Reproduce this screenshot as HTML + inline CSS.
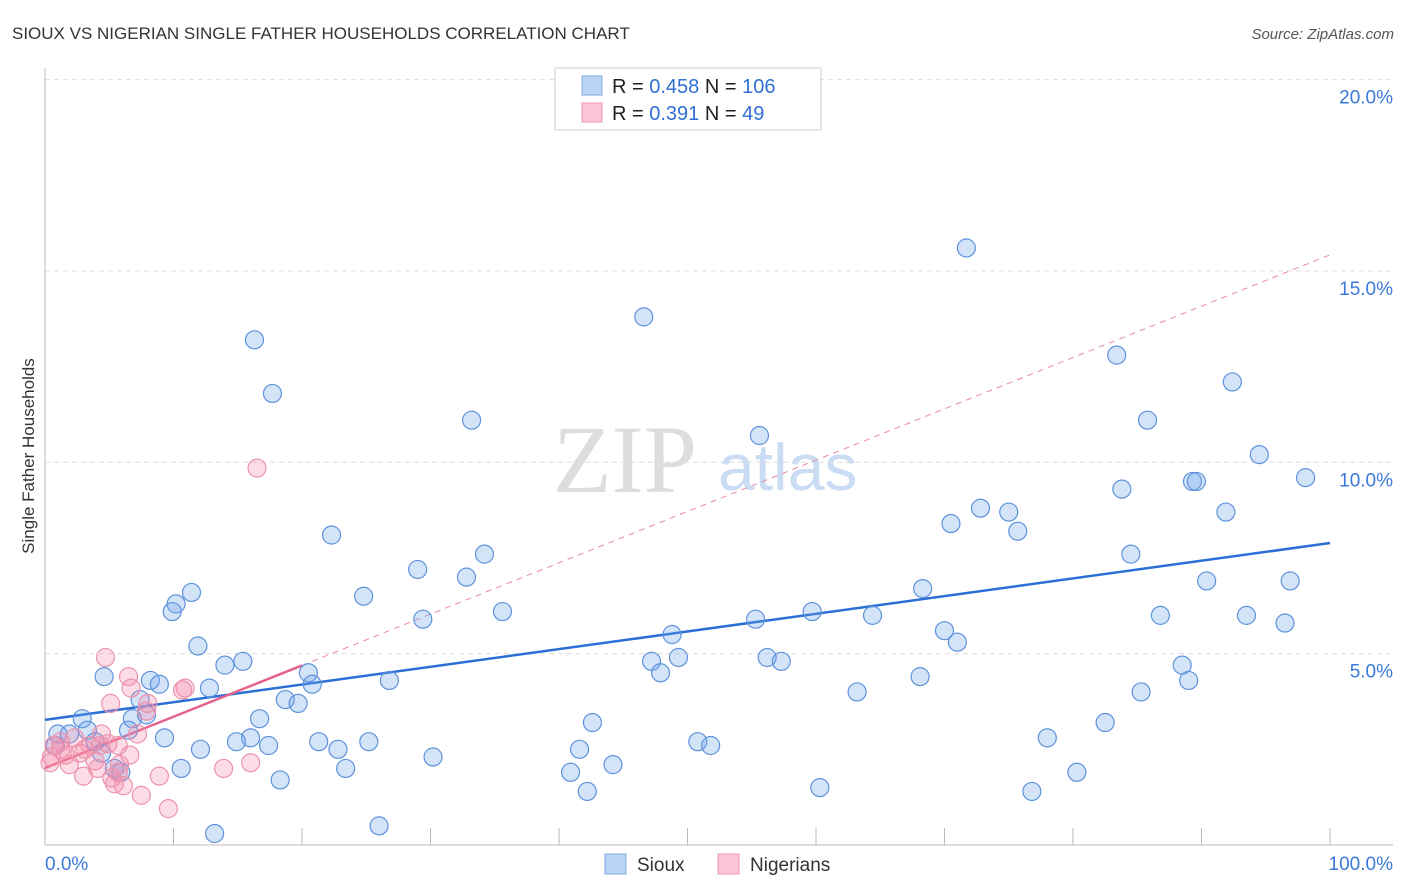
<!DOCTYPE html>
<html><head><meta charset="utf-8"><style>
body{margin:0;background:#fff;font-family:"Liberation Sans",sans-serif;}
svg{display:block}
</style></head><body>
<svg id="chart" width="1406" height="892" xmlns="http://www.w3.org/2000/svg">
<text x="12" y="39" font-size="17" fill="#333">SIOUX VS NIGERIAN SINGLE FATHER HOUSEHOLDS CORRELATION CHART</text>
<text x="1394" y="39" font-size="15" fill="#555" font-style="italic" text-anchor="end">Source: ZipAtlas.com</text>
<g>
<text x="553" y="492" font-size="96" font-family="Liberation Serif,serif" fill="#ddd">ZIP</text>
<text x="718" y="490" font-size="66" fill="#c9dcf3">atlas</text>
</g>
<g id="grid"></g><g id="axes"></g><g id="trends"></g><g id="pts"></g>
<text transform="translate(34,456) rotate(-90)" font-size="17" fill="#333" text-anchor="middle">Single Father Households</text>
<g>
<rect x="555" y="68" width="266" height="62" fill="#fff" stroke="#ccc"/>
<rect x="582" y="76" width="20" height="19" fill="#b9d3f5" stroke="#7aa7e6"/>
<rect x="582" y="103" width="20" height="19" fill="#fbc5d5" stroke="#ef9ab4"/>
<text x="612" y="93" font-size="20" fill="#222">R = <tspan fill="#2f6fd6">0.458</tspan>   N = <tspan fill="#2f6fd6">106</tspan></text>
<text x="612" y="120" font-size="20" fill="#222">R =  <tspan fill="#2f6fd6">0.391</tspan>   N =   <tspan fill="#2f6fd6">49</tspan></text>
</g>
<g>
<rect x="605" y="854" width="21" height="20" fill="#b9d3f5" stroke="#7aa7e6"/>
<text x="637" y="871" font-size="19" fill="#333">Sioux</text>
<rect x="718" y="854" width="21" height="20" fill="#fbc5d5" stroke="#ef9ab4"/>
<text x="750" y="871" font-size="19" fill="#333">Nigerians</text>
</g>
</svg>
<script>
const yTicks=[5,10,15,20];
const yTickLabels=["5.0%","10.0%","15.0%","20.0%"];
const xTickLabels=["0.0%","100.0%"];
const siouxX=[16.3,17.7,46.6,71.7,83.4,92.4,33.2,55.6,85.8,94.5,89.3,89.6,98.1,83.8,72.8,75.0,70.5,91.9,75.7,22.3,84.5,34.2,29.0,32.8,90.4,96.9,68.3,11.4,24.8,10.2,9.9,35.6,59.7,86.8,93.5,64.4,55.3,29.4,96.5,70.0,48.8,11.9,71.0,49.3,47.2,56.2,57.3,15.4,14.0,88.5,47.9,4.6,68.1,89.0,8.2,8.9,20.5,20.8,26.8,12.8,63.2,85.3,7.4,18.7,19.7,7.9,16.7,6.8,42.6,82.5,2.9,6.5,3.3,1.0,1.9,9.3,16.0,14.9,21.3,25.2,50.8,78.0,17.4,51.8,12.1,22.8,41.6,4.4,30.2,10.6,23.4,44.2,5.4,5.9,40.9,80.3,18.3,42.2,60.3,76.8,13.2,26.0,0.8,3.9];
const siouxY=[13.2,11.8,13.8,15.6,12.8,12.1,11.1,10.7,11.1,10.2,9.5,9.5,9.6,9.3,8.8,8.7,8.4,8.7,8.2,8.1,7.6,7.6,7.2,7.0,6.9,6.9,6.7,6.6,6.5,6.3,6.1,6.1,6.1,6.0,6.0,6.0,5.9,5.9,5.8,5.6,5.5,5.2,5.3,4.9,4.8,4.9,4.8,4.8,4.7,4.7,4.5,4.4,4.4,4.3,4.3,4.2,4.5,4.2,4.3,4.1,4.0,4.0,3.8,3.8,3.7,3.4,3.3,3.3,3.2,3.2,3.3,3.0,3.0,2.9,2.9,2.8,2.8,2.7,2.7,2.7,2.7,2.8,2.6,2.6,2.5,2.5,2.5,2.4,2.3,2.0,2.0,2.1,2.0,1.9,1.9,1.9,1.7,1.4,1.5,1.4,0.3,0.5,2.6,2.7];
const nigX=[16.5,4.7,6.5,10.9,10.7,6.7,5.1,8.0,7.9,7.2,4.4,2.3,3.5,4.9,0.7,1.2,0.5,1.6,2.7,3.9,6.6,5.7,5.7,4.1,3.0,5.4,6.1,8.9,7.5,9.6,13.9,16.0,0.4,1.9,3.1,1.2,4.3,5.8,5.2];
const nigY=[9.85,4.9,4.4,4.1,4.05,4.1,3.7,3.7,3.5,2.9,2.9,2.8,2.6,2.65,2.6,2.5,2.3,2.35,2.4,2.2,2.35,2.6,1.9,2.0,1.8,1.6,1.55,1.8,1.3,0.95,2.0,2.15,2.15,2.1,2.5,2.7,2.6,2.1,1.75];
const siouxTrend=[3.27,7.89];
const nigTrend=[2.01,15.42];
const nigSolidEnd=20;
const X=v=>45+v*12.85, Y=v=>845-v*38.27;
const NS="http://www.w3.org/2000/svg";
function mk(tag,attrs,parent){const e=document.createElementNS(NS,tag);for(const k in attrs)e.setAttribute(k,attrs[k]);document.getElementById(parent).appendChild(e);return e;}
yTicks.forEach((t,i)=>{
 const l=mk('line',{x1:45,x2:1393,y1:Y(t),y2:Y(t),stroke:'#ddd','stroke-dasharray':'5,4'},'grid');
 
 
 const tx=mk('text',{x:1393,y:Y(t)+24,'font-size':19,fill:'#3b78d8','text-anchor':'end'},'grid');
 tx.textContent=yTickLabels[i];
 
 
});
const ax=mk('line',{x1:45,x2:45,y1:68,y2:845,stroke:'#bbb'},'axes');


const bx=mk('line',{x1:45,x2:1393,y1:845,y2:845,stroke:'#bbb'},'axes');


for(let k=1;k<=10;k++){const t=mk('line',{x1:X(k*10),x2:X(k*10),y1:828,y2:845,stroke:'#bbb'},'axes');
 
 }
[[0,'start',45],[100,'end',1393]].forEach((d,i)=>{const t=mk('text',{x:d[2],y:870,'font-size':19,fill:'#3b78d8','text-anchor':d[1]},'axes');t.textContent=xTickLabels[i];
 
 });
function pts(xs,ys,fill,stroke,name){xs.forEach((x,i)=>{const c=mk('circle',{cx:X(x),cy:Y(ys[i]),r:9,fill:fill,stroke:stroke,'stroke-width':1.2},'pts');
 
 });}
pts(siouxX,siouxY,'rgba(110,165,235,0.3)','#5e92dc','sioux-point');
pts(nigX,nigY,'rgba(245,140,170,0.3)','#ec93ae','nigerian-point');
const nd=mk('line',{x1:X(nigSolidEnd),y1:Y(nigTrend[0]+(nigTrend[1]-nigTrend[0])*nigSolidEnd/100),x2:X(100),y2:Y(nigTrend[1]),stroke:'#e88aa8','stroke-dasharray':'6,5','stroke-width':1},'trends');


const st=mk('line',{x1:X(0),y1:Y(siouxTrend[0]),x2:X(100),y2:Y(siouxTrend[1]),stroke:'#2b6fd6','stroke-width':2.5},'trends');


const ns=mk('line',{x1:X(0),y1:Y(nigTrend[0]),x2:X(nigSolidEnd),y2:Y(nigTrend[0]+(nigTrend[1]-nigTrend[0])*nigSolidEnd/100),stroke:'#e5628c','stroke-width':2.5},'trends');


</script>
</body></html>
